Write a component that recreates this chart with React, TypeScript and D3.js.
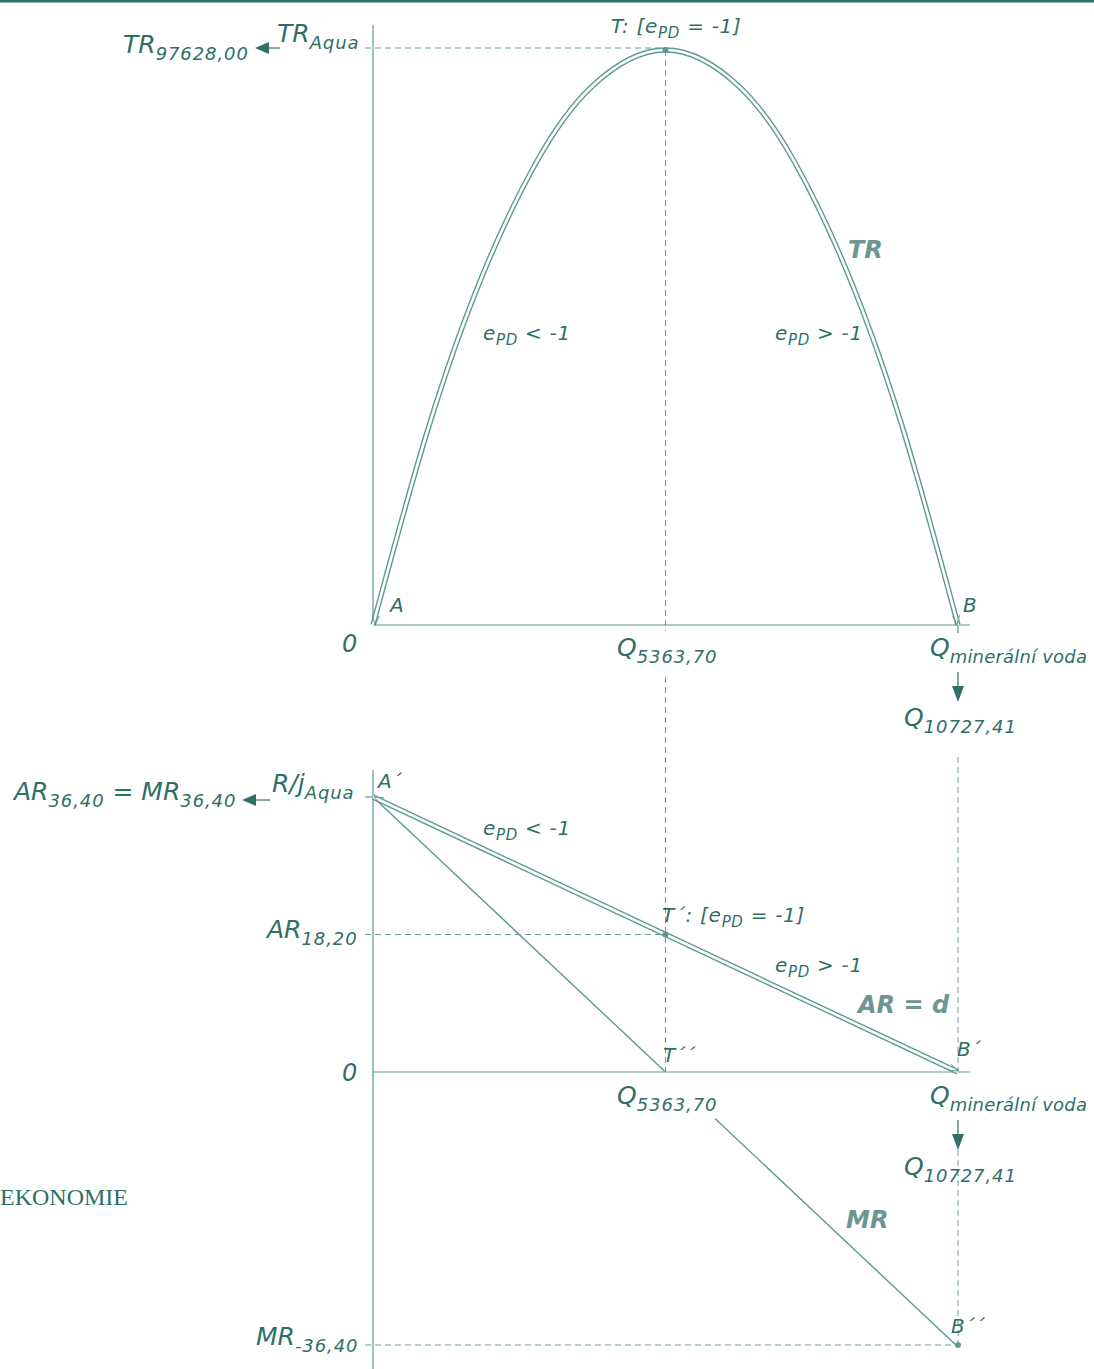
import React from 'react';
import * as d3 from 'd3';

// quantities (Q) and values
const qTicks = [0, 5363.70, 10727.41];
const trMax = 97628.00;
const priceTicks = [36.40, 18.20, 0, -36.40];

// TR curve samples (Q, TR)
const trQ = [0, 1000, 2000, 3000, 4000, 5363.70, 6727.41, 7727.41, 8727.41, 9727.41, 10727.41];
const trVal = [0, 33007, 59227, 78661, 91310, 97628, 91310, 78661, 59227, 33007, 0];

// AR (demand) and MR lines (Q, price)
const arQ = [0, 10727.41];
const arVal = [36.40, 0];
const mrQ = [0, 5363.70, 10727.41];
const mrVal = [36.40, 0, -36.40];

const W = 1094;
const H = 1369;
const txt = '#2f6f68';
const line = '#5e9992';
const dash = '#6c9f99';
const bold = '#6b9692';
const font = '"DejaVu Sans", Verdana, sans-serif';

const x = d3.scaleLinear().domain([0, 10727.41]).range([373, 958]);
const yTop = d3.scaleLinear().domain([0, trMax]).range([625, 50]);
const yBot = d3.scaleLinear().domain([-36.40, 36.40]).range([1347, 797]);

type LabProps = { x: number; y: number; main: string; sub?: string; size?: number; subSize?: number; ls?: number };

const Lab = ({ x, y, main, sub, size = 25, subSize = 18, ls = 0.9 }: LabProps) => (
  <text x={x} y={y} fill={txt} fontFamily={font} fontStyle="italic" fontSize={size}>
    <tspan>{main}</tspan>
    {sub && <tspan fontSize={subSize} dy={7} letterSpacing={ls}>{sub}</tspan>}
  </text>
);

const Epd = ({ x, y, pre = '', op }: { x: number; y: number; pre?: string; op: string }) => (
  <text x={x} y={y} fill={txt} fontFamily={font} fontStyle="italic" fontSize={20} letterSpacing={0.7}>
    <tspan>{pre + 'e'}</tspan>
    <tspan fontSize={15} dy={5}>PD</tspan>
    <tspan dy={-5} xmlSpace="preserve">{op}</tspan>
  </text>
);

const LeftArrow = ({ x1, x2, y }: { x1: number; x2: number; y: number }) => (
  <g>
    <line x1={x1 + 12} x2={x2} y1={y} y2={y} stroke={txt} strokeWidth={1.2} />
    <path d={`M${x1},${y} L${x1 + 14},${y - 6} L${x1 + 14},${y + 6} Z`} fill={txt} />
  </g>
);

const DownArrow = ({ x, y1, y2 }: { x: number; y1: number; y2: number }) => (
  <g>
    <line x1={x} x2={x} y1={y1} y2={y2 - 12} stroke={txt} strokeWidth={1.2} />
    <path d={`M${x},${y2} L${x - 6},${y2 - 16} L${x + 6},${y2 - 16} Z`} fill={txt} />
  </g>
);

const DoublePath = ({ d }: { d: string }) => (
  <g fill="none">
    <path d={d} stroke={line} strokeWidth={5.4} />
    <path d={d} stroke="#fff" strokeWidth={2.6} />
  </g>
);

export default function App() {
  const trLine = d3.line<number>()
    .x((_, i) => x(trQ[i]))
    .y((d) => yTop(d))
    .curve(d3.curveNatural);
  const trPath = trLine(trVal) || '';

  const arPath = d3.line<number>().x((_, i) => x(arQ[i])).y((d) => yBot(d))(arVal) || '';
  const mrPts = mrQ.map((q, i) => [x(q), yBot(mrVal[i])]);

  const xMid = x(qTicks[1]);
  const xEnd = x(qTicks[2]);
  const x0 = x(qTicks[0]);
  const yTR = yTop(trMax);
  const yAR = yBot(priceTicks[0]);
  const yHalf = yBot(priceTicks[1]);
  const yZero = yBot(priceTicks[2]);
  const yMR = yBot(priceTicks[3]);

  // MR second segment starts after label gap
  const t = (715 - mrPts[1][0]) / (mrPts[2][0] - mrPts[1][0]);
  const mrStart = [mrPts[1][0] + t * (mrPts[2][0] - mrPts[1][0]), mrPts[1][1] + t * (mrPts[2][1] - mrPts[1][1])];

  const arrowHead = (px: number, py: number, ang: number) => {
    const a1 = ang + 0.35, a2 = ang - 0.35, L = 10;
    return `M${px - L * Math.cos(a1)},${py - L * Math.sin(a1)} L${px},${py} L${px - L * Math.cos(a2)},${py - L * Math.sin(a2)}`;
  };

  return (
    <svg width={W} height={H} style={{ position: 'absolute', left: 0, top: 0, background: '#fff' }}>
      <rect x={0} y={0} width={W} height={2.5} fill="#2e6f66" />

      {/* top panel */}
      <line x1={x0} x2={x0} y1={25} y2={yTop(0)} stroke={line} strokeWidth={1.2} />
      <line x1={x0} x2={970} y1={yTop(0)} y2={yTop(0)} stroke={line} strokeWidth={1.2} />
      <line x1={365} x2={xMid} y1={yTR - 2} y2={yTR - 2} stroke={dash} strokeDasharray="6,4" />
      <line x1={xMid} x2={xMid} y1={yTR} y2={yTop(0) + 6} stroke={dash} strokeDasharray="6,4" />
      <line x1={xMid} x2={xMid} y1={677} y2={yZero} stroke={dash} strokeDasharray="6,4" />
      <line x1={xEnd} x2={xEnd} y1={yTop(0) - 4} y2={yTop(0) + 8} stroke={line} strokeWidth={1.2} />

      <DoublePath d={trPath} />
      <path d={arrowHead(x0 + 2, yTop(0), Math.atan2(yTop(0) - yTop(trVal[1]), -20))} stroke={line} fill="none" strokeWidth={1} />
      <path d={arrowHead(xEnd - 1, yTop(0), Math.atan2(yTop(0) - yTop(trVal[9]), 20))} stroke={line} fill="none" strokeWidth={1} />
      <circle cx={xMid} cy={yTR} r={3} fill={line} />

      <Lab x={123} y={53} main="TR" sub="97628,00" />
      <LeftArrow x1={255} x2={280} y={48} />
      <Lab x={277} y={42} main="TR" sub="Aqua" />
      <Epd x={611} y={33} pre="T: [" op={' = -1]'} />
      <Epd x={483} y={340} op={' < -1'} />
      <Epd x={775} y={340} op={' > -1'} />
      <text x={848} y={258} fill={bold} fontFamily={font} fontStyle="italic" fontWeight="bold" fontSize={24}>TR</text>
      <text x={390} y={612} fill={txt} fontFamily={font} fontStyle="italic" fontSize={20}>A</text>
      <text x={963} y={612} fill={txt} fontFamily={font} fontStyle="italic" fontSize={20}>B</text>
      <text x={342} y={652} fill={txt} fontFamily={font} fontStyle="italic" fontSize={24}>0</text>
      <Lab x={617} y={656} main="Q" sub="5363,70" />
      <Lab x={930} y={656} main="Q" sub="minerální voda" ls={0.2} />
      <DownArrow x={xEnd} y1={672} y2={702} />
      <Lab x={904} y={726} main="Q" sub="10727,41" />

      {/* bottom panel */}
      <line x1={x0} x2={x0} y1={770} y2={H} stroke={line} strokeWidth={1.2} />
      <line x1={x0} x2={970} y1={yZero} y2={yZero} stroke={line} strokeWidth={1.2} />
      <line x1={365} x2={x0} y1={yAR} y2={yAR} stroke={line} strokeWidth={1.2} />
      <line x1={365} x2={xMid} y1={yHalf} y2={yHalf} stroke={dash} strokeDasharray="6,4" />
      <line x1={xEnd} x2={xEnd} y1={757} y2={yZero} stroke={dash} strokeDasharray="6,4" />
      <line x1={xEnd} x2={xEnd} y1={1150} y2={yMR} stroke={dash} strokeDasharray="6,4" />
      <line x1={365} x2={xEnd} y1={yMR - 2} y2={yMR - 2} stroke={dash} strokeDasharray="6,4" />

      <line x1={mrPts[0][0]} y1={mrPts[0][1]} x2={mrPts[1][0]} y2={mrPts[1][1]} stroke={line} strokeWidth={1.4} />
      <line x1={mrStart[0]} y1={mrStart[1]} x2={mrPts[2][0]} y2={mrPts[2][1]} stroke={line} strokeWidth={1.4} />
      <DoublePath d={arPath} />
      <path d={arrowHead(xEnd, yZero - 1, Math.atan2(yZero - yAR, xEnd - x0))} stroke={line} fill="none" strokeWidth={1} />
      <path d={arrowHead(x0 + 1, yAR, Math.atan2(yAR - yZero, x0 - xEnd))} stroke={line} fill="none" strokeWidth={1} />
      <circle cx={xMid} cy={yHalf} r={3} fill={line} />
      <circle cx={xEnd} cy={yMR - 2} r={3} fill={line} />

      <text x={14} y={800} fill={txt} fontFamily={font} fontStyle="italic" fontSize={25}>
        <tspan>AR</tspan>
        <tspan fontSize={18} dy={7} letterSpacing={0.9}>36,40</tspan>
        <tspan dy={-7} xmlSpace="preserve">{' = MR'}</tspan>
        <tspan fontSize={18} dy={7} letterSpacing={0.9}>36,40</tspan>
      </text>
      <LeftArrow x1={242} x2={270} y={800} />
      <Lab x={272} y={792} main="R/j" sub="Aqua" />
      <text x={378} y={788} fill={txt} fontFamily={font} fontStyle="italic" fontSize={20}>A´</text>
      <Epd x={483} y={835} op={' < -1'} />
      <Epd x={662} y={922} pre="T´: [" op={' = -1]'} />
      <Epd x={775} y={972} op={' > -1'} />
      <text x={858} y={1013} fill={bold} fontFamily={font} fontStyle="italic" fontWeight="bold" fontSize={24}>AR = d</text>
      <text x={957} y={1056} fill={txt} fontFamily={font} fontStyle="italic" fontSize={20}>B´</text>
      <text x={663} y={1062} fill={txt} fontFamily={font} fontStyle="italic" fontSize={20}>T´´</text>
      <Lab x={267} y={938} main="AR" sub="18,20" />
      <text x={342} y={1081} fill={txt} fontFamily={font} fontStyle="italic" fontSize={24}>0</text>
      <Lab x={617} y={1104} main="Q" sub="5363,70" />
      <Lab x={930} y={1104} main="Q" sub="minerální voda" ls={0.2} />
      <DownArrow x={xEnd} y1={1120} y2={1150} />
      <Lab x={904} y={1175} main="Q" sub="10727,41" />
      <text x={846} y={1228} fill={bold} fontFamily={font} fontStyle="italic" fontWeight="bold" fontSize={24}>MR</text>
      <text x={951} y={1333} fill={txt} fontFamily={font} fontStyle="italic" fontSize={20}>B´´</text>
      <Lab x={256} y={1345} main="MR" sub="-36,40" />

      <text x={0} y={1205} fill="#2e6f66" fontFamily='"Liberation Serif", serif' fontSize={24}>EKONOMIE</text>
    </svg>
  );
}
